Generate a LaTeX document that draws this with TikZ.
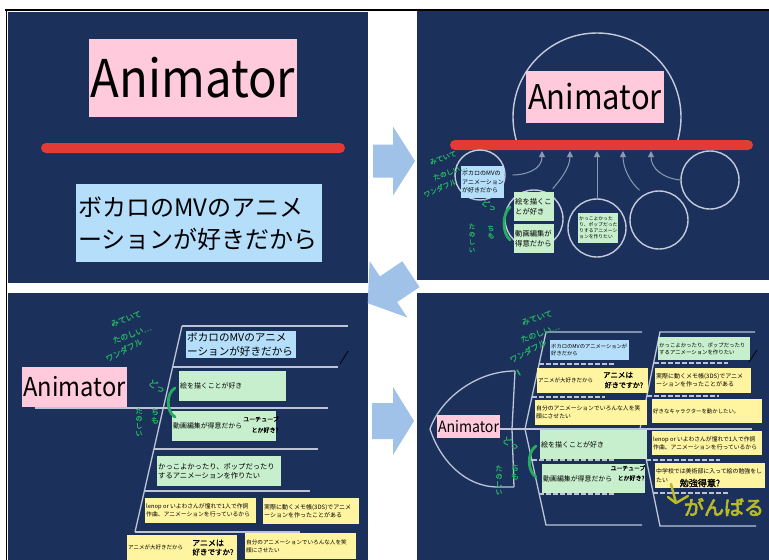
\documentclass[tikz,border=0pt]{standalone}
\usepackage{fontspec}
\setmainfont{Noto Sans CJK JP}
\newfontfamily\hwfont{Noto Sans CJK JP}[FakeBold=1.5]
\newfontfamily\hwbold{Noto Sans CJK JP}[FakeBold=3.5]
\usetikzlibrary{arrows.meta}
\definecolor{navy}{RGB}{27,49,92}
\definecolor{pinkbox}{RGB}{255,202,219}
\definecolor{bluebox}{RGB}{180,222,250}
\definecolor{greenbox}{RGB}{200,239,205}
\definecolor{yellowbox}{RGB}{255,245,160}
\definecolor{barred}{RGB}{226,58,52}
\definecolor{bonec}{RGB}{188,196,214}
\definecolor{ringc}{RGB}{196,202,218}
\definecolor{connc}{RGB}{140,152,180}
\definecolor{hwgreen}{RGB}{38,172,98}
\definecolor{olivec}{RGB}{184,186,40}
\definecolor{arrowblue}{RGB}{160,193,232}
\newcommand{\fsz}[2]{\fontsize{#1pt}{#2pt}\selectfont}
% name, fill, x, y, w, h, font size, baselineskip, text
\newcommand{\tbox}[9]{%
  \node[boxn,fill=#2,minimum width=#5pt,minimum height=#6pt] (#1) at (#3,#4) {};
  \node[txtn,font=\fsz{#7}{#8}] (#1t) at ([xshift=1pt]#1.west) {#9};}
\begin{document}
\begin{tikzpicture}[x=1pt,y=-1pt,
  pinkn/.style={fill=pinkbox,inner sep=0pt,text=black},
  barn/.style={fill=barred,rounded corners=5pt,inner sep=0pt},
  boxn/.style={anchor=north west,inner sep=0pt,draw=none},
  txtn/.style={anchor=west,inner sep=0pt,align=left,text=black},
  ringn/.style={circle,draw=ringc,line width=1.4pt,inner sep=0pt},
  conn/.style={draw=connc,line width=1pt,-{Triangle[width=6pt,length=6pt]}},
  bone/.style={draw=bonec,line width=1.3pt},
  dbone/.style={draw=bonec,line width=1.3pt,dash pattern=on 5pt off 2pt},
  hw/.style={text=hwgreen,inner sep=0pt},
  hwk/.style={text=black,inner sep=0pt},
  hwo/.style={text=olivec,inner sep=0pt},
  hwstroke/.style={draw=hwgreen,line width=2.8pt,line cap=round},
  panelarrow/.style={fill=arrowblue,draw=none}
]
\useasboundingbox (0,0) rectangle (769,560);
\fill[white] (0,0) rectangle (769,560);
\draw[black,line width=2pt] (5,10) -- (769,10);
\draw[black,line width=1.5pt] (6.5,10) -- (6.5,560);

% panels
\fill[navy] (8,12) rectangle (368,283);
\fill[navy] (417,11) rectangle (769,280);
\fill[navy] (8,293) rectangle (368,560);
\fill[navy] (417,293) rectangle (769,560);

% panel arrows
\fill[panelarrow] (373,144.5) -- (393,144.5) -- (393,126.5) -- (415,161) -- (393,195.5) -- (393,177.5) -- (373,177.5) -- cycle;
\fill[panelarrow] (419.5,287.1) -- (397.1,302.1) -- (407.4,317.5) -- (367.7,303.2) -- (369.6,261.0) -- (379.9,276.4) -- (402.3,261.3) -- cycle;
\fill[panelarrow] (372,403) -- (393,403) -- (393,387) -- (414,421) -- (393,455) -- (393,439) -- (372,439) -- cycle;

% ---------- top left ----------
\node[pinkn,minimum width=208pt,minimum height=78pt,font=\fsz{52}{60}] (tlA) at (193,78) {\scalebox{0.91}[1]{Animator}};
\node[barn,minimum width=304pt,minimum height=10pt] (tlbar) at (193,148) {};
\node[boxn,fill=bluebox,minimum width=246pt,minimum height=78pt] (tlB) at (76,184) {};
\node[txtn,font=\fsz{24}{32}] (tlBt) at ([xshift=2pt]tlB.west) {ボカロのMVのアニメ\\ーションが好きだから};

% ---------- top right ----------
\begin{scope}
\clip (417,11) rectangle (769,144);
\draw[draw=ringc,line width=1.4pt] (597,117) circle[radius=84];
\end{scope}
\node[pinkn,minimum width=138pt,minimum height=52pt,font=\fsz{34}{40}] (trA) at (595,97) {\scalebox{0.91}[1]{Animator}};
\node[barn,minimum width=303pt,minimum height=10pt] (trbar) at (601.5,145) {};
\node[ringn,minimum size=50pt] (c1) at (480,175) {};
\node[ringn,minimum size=58pt] (c2) at (534,219) {};
\node[ringn,minimum size=58pt] (c3) at (597,228) {};
\node[ringn,minimum size=58pt] (c4) at (659,220) {};
\node[ringn,minimum size=58pt] (c5) at (710,180) {};
\coordinate (t1) at (542,151);
\coordinate (t2) at (570,151);
\coordinate (t3) at (597,151);
\coordinate (t4) at (623,151);
\coordinate (t5) at (651,151);
\draw[conn,shorten <=7pt] (c1.east) .. controls (525,175) and (542,170) .. (t1);
\draw[conn,shorten <=6pt] (c2.60) .. controls (560,180) and (570,168) .. (t2);
\draw[conn] (c3.north) -- (t3);
\draw[conn,shorten <=6pt] (c4.120) .. controls (630,182) and (623,168) .. (t4);
\draw[conn] (c5.west) .. controls (662,178) and (651,168) .. (t5);
\tbox{trB}{bluebox}{461}{166}{43}{32}{6}{8.5}{ボカロのMVの\\アニメーション\\が好きだから}
\tbox{trC}{greenbox}{514}{192}{40}{29}{7.3}{9.5}{絵を描くこ\\とが好き}
\tbox{trD}{greenbox}{514}{224}{40}{29}{7.3}{9.5}{動画編集が\\得意だから}
\tbox{trE}{greenbox}{578}{213}{40}{30}{4.8}{6}{かっこよかった\\り、ポップだった\\りするアニメーシ\\ョンを作りたい}
\node[hw,rotate=20,font=\hwfont\fsz{7}{7}] (trh1) at (443,158) {みていて};
\node[hw,rotate=20,font=\hwfont\fsz{7}{7}] (trh2) at (450,172) {たのしい…};
\node[hw,rotate=24,font=\hwfont\fsz{7}{7}] (trh3) at (440,188) {ワンダフル};
\node[hw,rotate=-30,font=\hwfont\fsz{8}{8}] (trh4) at (489,205) {どっ};
\node[hw,align=center,font=\hwfont\fsz{7}{7.5}] (trh5) at (491,232) {ち\\も};
\node[hw,align=center,font=\hwfont\fsz{6.5}{7.8}] (trh6) at (472,238) {た\\の\\し\\い};
\draw[hwstroke] (510,207) .. controls (502,214) and (502,233) .. (510,240);

% ---------- bottom left ----------
\draw[bone] (182,326) -- (348,326);
\draw[bone] (182,326) -- (135,532);
\draw[bone] (172.6,367) -- (338,367);
\draw[bone] (35,408) -- (328,408);
\draw[bone] (154,449) -- (318,449);
\draw[bone] (144.4,491) -- (310,491);
\draw[bone] (135,532) -- (300,532);
\draw[black,line width=0.8pt] (348,351) -- (340,364);
\node[pinkn,minimum width=105pt,minimum height=40pt,font=\fsz{26}{30}] (blA) at (74.5,387) {\scalebox{0.91}[1]{Animator}};
\tbox{blB}{bluebox}{186}{331}{110}{27}{10.6}{13.5}{ボカロのMVのアニメ\\ーションが好きだから}
\tbox{blC}{greenbox}{179}{371}{107}{30}{6.9}{9}{絵を描くことが好き}
\tbox{blD}{greenbox}{172}{411}{104}{30}{6.9}{9}{動画編集が得意だから}
\tbox{blE}{greenbox}{157}{456}{124}{30}{7.3}{9.5}{かっこよかったり、ポップだったり\\するアニメーションを作りたい}
\tbox{blF}{yellowbox}{145}{498}{111}{25}{5.8}{8}{lenop or いよわさんが憧れで1人で作詞\\作曲、アニメーションを行っているから}
\tbox{blG}{yellowbox}{263}{498}{96}{26}{6}{8}{実際に動くメモ帳(3DS)でアニメ\\ーションを作ったことがある}
\tbox{blH}{yellowbox}{127}{535}{110}{25}{5.5}{8}{アニメが大好きだから}
\tbox{blI}{yellowbox}{245}{533}{111}{26}{5.6}{8}{自分のアニメーションでいろんな人を笑\\顔にさせたい}
\node[hwk,font=\hwfont\fsz{6}{6}] (blk1) at (261,419) {ユーチューブ};
\node[hwk,font=\hwfont\fsz{6}{6}] (blk2) at (265,430) {とか好き?};
\node[hwk,font=\hwfont\fsz{8}{8}] (blk3) at (208,543) {アニメは};
\node[hwk,font=\hwfont\fsz{7.5}{8}] (blk4) at (213,552) {好きですか?};
\node[hw,rotate=20,font=\hwfont\fsz{8}{8}] (blh1) at (126,319) {みていて};
\node[hw,rotate=20,font=\hwfont\fsz{8}{8}] (blh2) at (132,334) {たのしい…};
\node[hw,rotate=28,font=\hwfont\fsz{8}{8}] (blh3) at (124,350) {ワンダフル};
\node[hw,rotate=-30,font=\hwfont\fsz{9}{9}] (blh4) at (157,386) {どっ};
\node[hw,align=center,font=\hwfont\fsz{8}{8.5}] (blh5) at (155,416) {ち\\も};
\node[hw,align=center,font=\hwfont\fsz{7}{7.5}] (blh6) at (139,422) {た\\の\\し\\い};
\draw[hwstroke] (175,388) .. controls (166,393) and (166,412) .. (175,417);

% ---------- bottom right ----------
\draw[bone] (430,429) .. controls (440,400) and (475,371) .. (515,371);
\draw[bone] (430,429) .. controls (440,460) and (465,487) .. (498,487) -- (514,487);
\draw[bone] (515,371) -- (512,429) -- (514,487);
\draw[bone] (500,429) -- (752,429);
\draw[bone] (642,332) -- (546,332) -- (525,429) -- (546,525) -- (642,525);
\draw[dbone] (539,364) -- (615,364);
\draw[dbone] (532,397) -- (605,397);
\draw[dbone] (532,460) -- (615,460);
\draw[dbone] (539,494) -- (615,494);
\draw[bone] (755,332) -- (660,332) -- (640,429) -- (660,526) -- (756,526);
\draw[dbone] (654,363) -- (728,363);
\draw[dbone] (647,396) -- (719,396);
\draw[dbone] (646,460) -- (720,460);
\draw[dbone] (653,493) -- (728,493);
\draw[black,line width=0.8pt] (757,350) -- (749,362);
\node[pinkn,minimum width=63pt,minimum height=23pt,font=\fsz{15.5}{18}] (brA) at (468.5,426.5) {\scalebox{0.91}[1]{Animator}};
\tbox{brB}{bluebox}{550}{340}{79}{20}{5.3}{7}{ボカロのMVのアニメーションが\\好きだから}
\tbox{brC}{yellowbox}{537}{368}{111}{25}{5.5}{7}{アニメが大好きだから}
\tbox{brD}{yellowbox}{535}{400}{112}{25}{5.8}{8}{自分のアニメーションでいろんな人を笑\\顔にさせたい}
\tbox{brE}{greenbox}{540}{430}{107}{29}{7}{9}{絵を描くことが好き}
\tbox{brF}{greenbox}{542}{464}{103}{29}{6.9}{9}{動画編集が得意だから}
\tbox{brG}{greenbox}{658}{337}{92}{23}{5.4}{7}{かっこよかったり、ポップだったり\\するアニメーションを作りたい}
\tbox{brH}{yellowbox}{655}{368}{96}{25}{6}{8}{実際に動くメモ帳(3DS)でアニメ\\ーションを作ったことがある}
\tbox{brI}{yellowbox}{652}{399}{110}{24}{5.4}{7}{好きなキャラクターを動かしたい。}
\tbox{brJ}{yellowbox}{652}{431}{110}{24}{5.8}{8.5}{lenop or いよわさんが憧れで1人で作詞\\作曲、アニメーションを行っているから}
\tbox{brK}{yellowbox}{655}{463}{110}{25}{5.9}{9}{中学校では美術部に入って絵の勉強をし\\たい}
\node[hwk,font=\hwfont\fsz{7.5}{8}] (brk1) at (618,375) {アニメは};
\node[hwk,font=\hwfont\fsz{7}{8}] (brk2) at (624,385) {好きですか?};
\node[hwk,font=\hwfont\fsz{5.8}{6}] (brk3) at (628,468) {ユーチューブ};
\node[hwk,font=\hwfont\fsz{6}{6}] (brk4) at (631,478) {とか好き?};
\node[hwk,font=\hwfont\fsz{9}{9}] (brk5) at (700,483) {勉強得意?};
\node[hwo,font=\hwbold\fsz{20}{20}] (brk6) at (724,507) {がんばる};
\draw[draw=olivec,line width=2.5pt,line cap=round,line join=round] (671,484) -- (676,503) -- (688,496);
\draw[draw=olivec,line width=2.5pt,line cap=round] (676,503) -- (668,497);
\node[hw,rotate=18,font=\hwfont\fsz{8}{8}] (brh1) at (537,318) {みていて};
\node[hw,rotate=20,font=\hwfont\fsz{8}{8}] (brh2) at (540,333) {たのしい…};
\node[hw,rotate=28,font=\hwfont\fsz{8}{8}] (brh3) at (528,351) {ワンダフル};
\draw[draw=hwgreen,line width=1.5pt,line cap=round] (517,370) -- (520,375);
\node[hw,rotate=-30,font=\hwfont\fsz{9}{9}] (brh4) at (511,443) {どっ};
\node[hw,align=center,font=\hwfont\fsz{8}{8.5}] (brh5) at (515,472) {ち\\も};
\node[hw,align=center,font=\hwfont\fsz{7}{7.8}] (brh6) at (499,480) {た\\の\\し\\い};
\draw[hwstroke] (536,446) .. controls (527,452) and (527,471) .. (536,477);
\end{tikzpicture}
\end{document}
